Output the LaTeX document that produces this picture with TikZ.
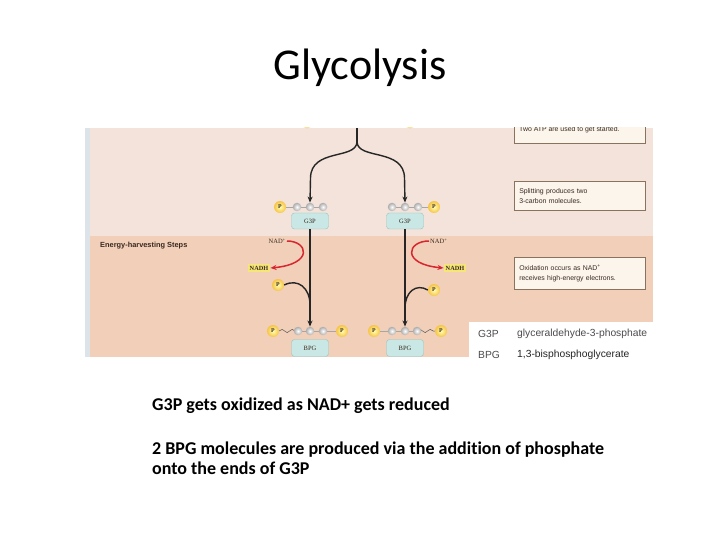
\documentclass[tikz,border=0pt]{standalone}
\usepackage{fontspec}
\setmainfont{Carlito}[Ligatures=NoCommon]
\newfontfamily\arialf{Liberation Sans}
\newfontfamily\timesf{Liberation Serif}
\usetikzlibrary{arrows.meta,decorations.pathmorphing}
\definecolor{bandtop}{HTML}{F3E3DA}
\definecolor{bandbot}{HTML}{F1CFB9}
\definecolor{boxfill}{HTML}{C9E7E4}
\definecolor{boxedge}{HTML}{98C4C2}
\definecolor{redarr}{HTML}{D8262E}
\definecolor{infofill}{HTML}{FCF5EC}
\definecolor{infoedge}{HTML}{8A735E}
\definecolor{nadhfill}{HTML}{F6E577}
\definecolor{darktxt}{HTML}{3A2A20}
\definecolor{stripc}{HTML}{DCE4EA}
\tikzset{
  molbox/.style={draw=boxedge, fill=boxfill, rounded corners=3pt, minimum width=37pt, minimum height=16pt, inner sep=0pt, font=\timesf\fontsize{6.5}{7}\selectfont, text=darktxt},
  pcirc/.style={circle, inner sep=0pt, minimum size=12pt, inner color=yellow!30, outer color={rgb,255:red,246;green,196;blue,70}, font=\timesf\bfseries\fontsize{5.8}{6}\selectfont, text=darktxt},
  bead/.style={circle, inner sep=0pt, minimum size=8.5pt, inner color=white, outer color=gray!65},
  link/.style={draw=gray!70, line width=0.6pt},
  wave/.style={draw=gray!70!black, line width=0.5pt, decorate, decoration={snake, segment length=10pt, amplitude=1.6pt}},
  mainarr/.style={draw=black!85, line width=1.4pt, -{Stealth[length=6pt,width=5pt]}},
  redarrow/.style={draw=redarr, line width=1.5pt, -{Stealth[length=6pt,width=5pt]}},
  info/.style={draw=infoedge, fill=infofill, line width=0.5pt, minimum width=131pt, inner xsep=5pt, align=left, text width=121pt, font=\arialf\fontsize{6.9}{10}\selectfont, text=darktxt},
  infotxt/.style={font=\arialf\fontsize{6.9}{10}\selectfont, text=darktxt, anchor=west, inner sep=0pt},
  nadh/.style={fill=nadhfill, inner xsep=2pt, inner ysep=1.5pt, font=\timesf\bfseries\fontsize{6.3}{7}\selectfont, text=darktxt},
  nadp/.style={font=\timesf\fontsize{6.5}{7}\selectfont, text=darktxt, inner sep=1pt},
  legend/.style={font=\arialf\fontsize{10.3}{12}\selectfont, text=black!70, anchor=west, inner sep=0pt},
  bottomtxt/.style={font=\bfseries\fontsize{18}{20}\selectfont, anchor=base west, inner sep=0pt}
}
\begin{document}
\begin{tikzpicture}[x=1pt,y=-1pt]
\useasboundingbox (0,0) rectangle (720,540);
\fill[white] (0,0) rectangle (720,540);
% title
\node[font=\fontsize{44}{50}\selectfont] (title) at (360,68) {Glycolysis};
% figure bands
\fill[bandtop] (85,128) rectangle (653,236);
\fill[bandbot] (85,236) rectangle (653,357);
\fill[stripc] (85,128) rectangle (90,357);
\fill[white] (469,322) rectangle (656,368);
% cut-off elements at top
\begin{scope}
\clip (85,128) rectangle (653,236);
\shade[inner color=yellow!30, outer color={rgb,255:red,246;green,196;blue,70}, opacity=0.6] (307,123) circle (5.5);
\shade[inner color=yellow!30, outer color={rgb,255:red,246;green,196;blue,70}, opacity=0.6] (410,123) circle (5.5);
\draw[draw=infoedge, fill=infofill, line width=0.5pt] (514,118) rectangle (645,143);
\node[infotxt] (box1) at (519,130) {Two ATP are used to get started.};
\end{scope}
\node[info, anchor=north west, minimum height=29pt] (box2) at (514,181) {Splitting produces two\\3-carbon molecules.};
\node[info, anchor=north west, minimum height=32pt] (box3) at (514,257) {Oxidation occurs as NAD\textsuperscript{+}\\receives high-energy electrons.};
\node[font=\arialf\bfseries\fontsize{7.4}{8}\selectfont, text=darktxt, anchor=west, inner sep=0pt] (energy) at (100,245.5) {Energy-harvesting Steps};
% split arrows
\coordinate (stem) at (357,128);
\coordinate (fork) at (357,142);
% left G3P chain
\draw[link] (280,207) -- (323,207);
\node[pcirc] (pL1) at (280,207) {P};
\node[bead] (bL1) at (297,207) {};
\node[bead] (bL2) at (310,207) {};
\node[bead] (bL3) at (323,207) {};
\node[molbox] (g3pL) at (310,221) {G3P};
% right G3P chain
\draw[link] (392,207) -- (434,207);
\node[bead] (bR1) at (392,207) {};
\node[bead] (bR2) at (405,207) {};
\node[bead] (bR3) at (418,207) {};
\node[pcirc] (pR1) at (434,207) {P};
\node[molbox] (g3pR) at (405,221) {G3P};
\draw[draw=black!85, line width=1.4pt] (stem) -- (fork);
\draw[mainarr] (fork) .. controls (356,160) and (311,148) .. (310.5,178) -- (bL2.north);
\draw[mainarr] (fork) .. controls (358,160) and (404,148) .. (404.5,178) -- (bR2.north);
% left BPG chain
\draw[link] (298,331) -- (342,331);
\draw[wave] (279,331) -- (298,331);
\node[pcirc] (pL2) at (273,331) {P};
\node[bead] (cL1) at (298,331) {};
\node[bead] (cL2) at (310,331) {};
\node[bead] (cL3) at (323,331) {};
\node[pcirc] (pL3) at (342,331) {P};
\node[molbox, minimum height=17pt] (bpgL) at (310,348) {BPG};
% right BPG chain
\draw[link] (374,331) -- (417,331);
\draw[wave] (417,331) -- (436,331);
\node[pcirc] (pR2) at (374,331) {P};
\node[bead] (cR1) at (392,331) {};
\node[bead] (cR2) at (405,331) {};
\node[bead] (cR3) at (417,331) {};
\node[pcirc] (pR3) at (441,331) {P};
\node[molbox, minimum height=17pt] (bpgR) at (405,348) {BPG};
% main vertical arrows
\draw[mainarr] (g3pL.south) -- (cL2.north);
\draw[mainarr] (g3pR.south) -- (cR2.north);
% NAD+ / NADH left
\node[nadp, anchor=east] (nadL) at (287,241) {NAD\textsuperscript{+}};
\node[nadh] (nadhL) at (259,268) {NADH};
\draw[redarrow] (nadL.east) .. controls (308,241) and (314,264) .. (nadhL.east);
\node[pcirc] (pL4) at (278,285) {P};
\draw[draw=black!85, line width=1.4pt] (pL4.east) .. controls (298,278) and (310,288) .. (310,305);
% NAD+ / NADH right
\node[nadp, anchor=west] (nadR) at (429,241) {NAD\textsuperscript{+}};
\node[nadh] (nadhR) at (455,268) {NADH};
\draw[redarrow] (nadR.west) .. controls (407,241) and (401,264) .. (nadhR.west);
\node[pcirc] (pR4) at (434,290) {P};
\draw[draw=black!85, line width=1.4pt] (pR4.west) .. controls (416,283) and (405,292) .. (405,308);
% legend
\node[legend] (lg1) at (478,334) {G3P};
\node[legend] (lg1t) at (517,334) {glyceraldehyde-3-phosphate};
\node[legend] (lg2) at (478,355) {BPG};
\node[legend, text=black!85] (lg2t) at (517,355) {1,3-bisphosphoglycerate};
% bottom text
\node[bottomtxt] (t1) at (152,410) {G3P gets oxidized as NAD+ gets reduced};
\node[bottomtxt] (t2) at (152,454) {2 BPG molecules are produced via the addition of phosphate};
\node[bottomtxt] (t3) at (152,474) {onto the ends of G3P};
\end{tikzpicture}
\end{document}
